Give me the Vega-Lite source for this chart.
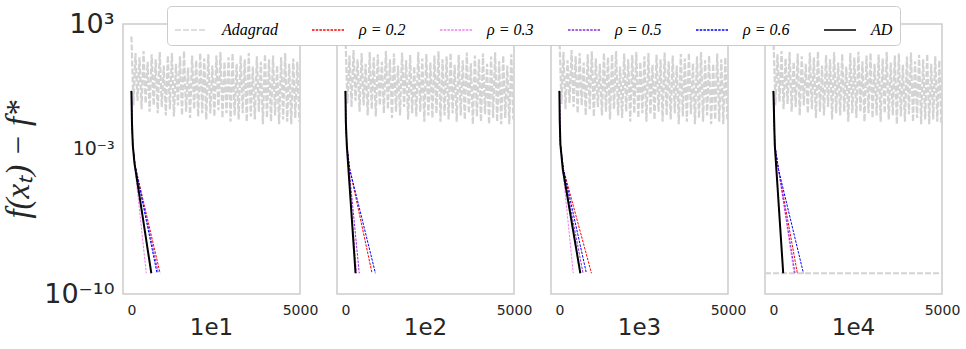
{
"$schema": "https://vega.github.io/schema/vega-lite/v6.json",
"padding": {"left": 2, "top": 5, "right": 5, "bottom": 2},
"background": "white",
"data": {"values": [
{"p":"1e4","s":"Adagrad","g":"f","x":-250,"y":1e-9},{"p":"1e4","s":"Adagrad","g":"f","x":5000,"y":1e-9},
{"p":"1e1","s":"Adagrad","g":"a","x":0,"y":250},{"p":"1e1","s":"Adagrad","g":"a","x":60,"y":0.12},{"p":"1e1","s":"Adagrad","g":"a","x":120,"y":40},{"p":"1e1","s":"Adagrad","g":"a","x":180,"y":0.2},{"p":"1e1","s":"Adagrad","g":"a","x":240,"y":25},{"p":"1e1","s":"Adagrad","g":"a","x":300,"y":0.08},{"p":"1e1","s":"Adagrad","g":"a","x":360,"y":50},{"p":"1e1","s":"Adagrad","g":"a","x":420,"y":0.15},{"p":"1e1","s":"Adagrad","g":"a","x":480,"y":15},{"p":"1e1","s":"Adagrad","g":"a","x":540,"y":0.06},{"p":"1e1","s":"Adagrad","g":"a","x":600,"y":35},{"p":"1e1","s":"Adagrad","g":"a","x":660,"y":0.12},{"p":"1e1","s":"Adagrad","g":"a","x":720,"y":20},{"p":"1e1","s":"Adagrad","g":"a","x":780,"y":0.05},{"p":"1e1","s":"Adagrad","g":"a","x":840,"y":45},{"p":"1e1","s":"Adagrad","g":"a","x":900,"y":0.1},{"p":"1e1","s":"Adagrad","g":"a","x":960,"y":10},{"p":"1e1","s":"Adagrad","g":"a","x":1020,"y":0.04},{"p":"1e1","s":"Adagrad","g":"a","x":1080,"y":30},{"p":"1e1","s":"Adagrad","g":"a","x":1140,"y":0.08},{"p":"1e1","s":"Adagrad","g":"a","x":1200,"y":40},{"p":"1e1","s":"Adagrad","g":"a","x":1260,"y":0.035},{"p":"1e1","s":"Adagrad","g":"a","x":1320,"y":12},{"p":"1e1","s":"Adagrad","g":"a","x":1380,"y":0.12},{"p":"1e1","s":"Adagrad","g":"a","x":1440,"y":28},{"p":"1e1","s":"Adagrad","g":"a","x":1500,"y":0.04},{"p":"1e1","s":"Adagrad","g":"a","x":1560,"y":50},{"p":"1e1","s":"Adagrad","g":"a","x":1620,"y":0.06},{"p":"1e1","s":"Adagrad","g":"a","x":1680,"y":8},{"p":"1e1","s":"Adagrad","g":"a","x":1740,"y":0.03},{"p":"1e1","s":"Adagrad","g":"a","x":1800,"y":30},{"p":"1e1","s":"Adagrad","g":"a","x":1860,"y":0.08},{"p":"1e1","s":"Adagrad","g":"a","x":1920,"y":18},{"p":"1e1","s":"Adagrad","g":"a","x":1980,"y":0.035},{"p":"1e1","s":"Adagrad","g":"a","x":2040,"y":40},{"p":"1e1","s":"Adagrad","g":"a","x":2100,"y":0.05},{"p":"1e1","s":"Adagrad","g":"a","x":2160,"y":22},{"p":"1e1","s":"Adagrad","g":"a","x":2220,"y":0.025},{"p":"1e1","s":"Adagrad","g":"a","x":2280,"y":35},{"p":"1e1","s":"Adagrad","g":"a","x":2340,"y":0.05},{"p":"1e1","s":"Adagrad","g":"a","x":2400,"y":10},{"p":"1e1","s":"Adagrad","g":"a","x":2460,"y":0.035},{"p":"1e1","s":"Adagrad","g":"a","x":2520,"y":30},{"p":"1e1","s":"Adagrad","g":"a","x":2580,"y":0.07},{"p":"1e1","s":"Adagrad","g":"a","x":2640,"y":45},{"p":"1e1","s":"Adagrad","g":"a","x":2700,"y":0.03},{"p":"1e1","s":"Adagrad","g":"a","x":2760,"y":15},{"p":"1e1","s":"Adagrad","g":"a","x":2820,"y":0.05},{"p":"1e1","s":"Adagrad","g":"a","x":2880,"y":25},{"p":"1e1","s":"Adagrad","g":"a","x":2940,"y":0.02},{"p":"1e1","s":"Adagrad","g":"a","x":3000,"y":38},{"p":"1e1","s":"Adagrad","g":"a","x":3060,"y":0.04},{"p":"1e1","s":"Adagrad","g":"a","x":3120,"y":12},{"p":"1e1","s":"Adagrad","g":"a","x":3180,"y":0.025},{"p":"1e1","s":"Adagrad","g":"a","x":3240,"y":30},{"p":"1e1","s":"Adagrad","g":"a","x":3300,"y":0.05},{"p":"1e1","s":"Adagrad","g":"a","x":3360,"y":20},{"p":"1e1","s":"Adagrad","g":"a","x":3420,"y":0.02},{"p":"1e1","s":"Adagrad","g":"a","x":3480,"y":40},{"p":"1e1","s":"Adagrad","g":"a","x":3540,"y":0.035},{"p":"1e1","s":"Adagrad","g":"a","x":3600,"y":9},{"p":"1e1","s":"Adagrad","g":"a","x":3660,"y":0.025},{"p":"1e1","s":"Adagrad","g":"a","x":3720,"y":28},{"p":"1e1","s":"Adagrad","g":"a","x":3780,"y":0.06},{"p":"1e1","s":"Adagrad","g":"a","x":3840,"y":15},{"p":"1e1","s":"Adagrad","g":"a","x":3900,"y":0.015},{"p":"1e1","s":"Adagrad","g":"a","x":3960,"y":35},{"p":"1e1","s":"Adagrad","g":"a","x":4020,"y":0.03},{"p":"1e1","s":"Adagrad","g":"a","x":4080,"y":20},{"p":"1e1","s":"Adagrad","g":"a","x":4140,"y":0.02},{"p":"1e1","s":"Adagrad","g":"a","x":4200,"y":30},{"p":"1e1","s":"Adagrad","g":"a","x":4260,"y":0.04},{"p":"1e1","s":"Adagrad","g":"a","x":4320,"y":10},{"p":"1e1","s":"Adagrad","g":"a","x":4380,"y":0.015},{"p":"1e1","s":"Adagrad","g":"a","x":4440,"y":25},{"p":"1e1","s":"Adagrad","g":"a","x":4500,"y":0.025},{"p":"1e1","s":"Adagrad","g":"a","x":4560,"y":40},{"p":"1e1","s":"Adagrad","g":"a","x":4620,"y":0.02},{"p":"1e1","s":"Adagrad","g":"a","x":4680,"y":12},{"p":"1e1","s":"Adagrad","g":"a","x":4740,"y":0.015},{"p":"1e1","s":"Adagrad","g":"a","x":4800,"y":22},{"p":"1e1","s":"Adagrad","g":"a","x":4860,"y":0.03},{"p":"1e1","s":"Adagrad","g":"a","x":4920,"y":15},{"p":"1e1","s":"Adagrad","g":"a","x":4980,"y":0.02},
{"p":"1e2","s":"Adagrad","g":"a","x":0,"y":300},{"p":"1e2","s":"Adagrad","g":"a","x":60,"y":0.15},{"p":"1e2","s":"Adagrad","g":"a","x":120,"y":30},{"p":"1e2","s":"Adagrad","g":"a","x":180,"y":0.1},{"p":"1e2","s":"Adagrad","g":"a","x":240,"y":55},{"p":"1e2","s":"Adagrad","g":"a","x":300,"y":0.2},{"p":"1e2","s":"Adagrad","g":"a","x":360,"y":20},{"p":"1e2","s":"Adagrad","g":"a","x":420,"y":0.06},{"p":"1e2","s":"Adagrad","g":"a","x":480,"y":40},{"p":"1e2","s":"Adagrad","g":"a","x":540,"y":0.12},{"p":"1e2","s":"Adagrad","g":"a","x":600,"y":12},{"p":"1e2","s":"Adagrad","g":"a","x":660,"y":0.04},{"p":"1e2","s":"Adagrad","g":"a","x":720,"y":45},{"p":"1e2","s":"Adagrad","g":"a","x":780,"y":0.08},{"p":"1e2","s":"Adagrad","g":"a","x":840,"y":25},{"p":"1e2","s":"Adagrad","g":"a","x":900,"y":0.035},{"p":"1e2","s":"Adagrad","g":"a","x":960,"y":35},{"p":"1e2","s":"Adagrad","g":"a","x":1020,"y":0.12},{"p":"1e2","s":"Adagrad","g":"a","x":1080,"y":15},{"p":"1e2","s":"Adagrad","g":"a","x":1140,"y":0.05},{"p":"1e2","s":"Adagrad","g":"a","x":1200,"y":50},{"p":"1e2","s":"Adagrad","g":"a","x":1260,"y":0.08},{"p":"1e2","s":"Adagrad","g":"a","x":1320,"y":20},{"p":"1e2","s":"Adagrad","g":"a","x":1380,"y":0.03},{"p":"1e2","s":"Adagrad","g":"a","x":1440,"y":38},{"p":"1e2","s":"Adagrad","g":"a","x":1500,"y":0.06},{"p":"1e2","s":"Adagrad","g":"a","x":1560,"y":10},{"p":"1e2","s":"Adagrad","g":"a","x":1620,"y":0.04},{"p":"1e2","s":"Adagrad","g":"a","x":1680,"y":42},{"p":"1e2","s":"Adagrad","g":"a","x":1740,"y":0.1},{"p":"1e2","s":"Adagrad","g":"a","x":1800,"y":18},{"p":"1e2","s":"Adagrad","g":"a","x":1860,"y":0.025},{"p":"1e2","s":"Adagrad","g":"a","x":1920,"y":32},{"p":"1e2","s":"Adagrad","g":"a","x":1980,"y":0.05},{"p":"1e2","s":"Adagrad","g":"a","x":2040,"y":9},{"p":"1e2","s":"Adagrad","g":"a","x":2100,"y":0.035},{"p":"1e2","s":"Adagrad","g":"a","x":2160,"y":45},{"p":"1e2","s":"Adagrad","g":"a","x":2220,"y":0.06},{"p":"1e2","s":"Adagrad","g":"a","x":2280,"y":22},{"p":"1e2","s":"Adagrad","g":"a","x":2340,"y":0.02},{"p":"1e2","s":"Adagrad","g":"a","x":2400,"y":36},{"p":"1e2","s":"Adagrad","g":"a","x":2460,"y":0.04},{"p":"1e2","s":"Adagrad","g":"a","x":2520,"y":14},{"p":"1e2","s":"Adagrad","g":"a","x":2580,"y":0.03},{"p":"1e2","s":"Adagrad","g":"a","x":2640,"y":30},{"p":"1e2","s":"Adagrad","g":"a","x":2700,"y":0.05},{"p":"1e2","s":"Adagrad","g":"a","x":2760,"y":48},{"p":"1e2","s":"Adagrad","g":"a","x":2820,"y":0.02},{"p":"1e2","s":"Adagrad","g":"a","x":2880,"y":20},{"p":"1e2","s":"Adagrad","g":"a","x":2940,"y":0.04},{"p":"1e2","s":"Adagrad","g":"a","x":3000,"y":28},{"p":"1e2","s":"Adagrad","g":"a","x":3060,"y":0.025},{"p":"1e2","s":"Adagrad","g":"a","x":3120,"y":40},{"p":"1e2","s":"Adagrad","g":"a","x":3180,"y":0.05},{"p":"1e2","s":"Adagrad","g":"a","x":3240,"y":11},{"p":"1e2","s":"Adagrad","g":"a","x":3300,"y":0.02},{"p":"1e2","s":"Adagrad","g":"a","x":3360,"y":33},{"p":"1e2","s":"Adagrad","g":"a","x":3420,"y":0.04},{"p":"1e2","s":"Adagrad","g":"a","x":3480,"y":18},{"p":"1e2","s":"Adagrad","g":"a","x":3540,"y":0.025},{"p":"1e2","s":"Adagrad","g":"a","x":3600,"y":42},{"p":"1e2","s":"Adagrad","g":"a","x":3660,"y":0.05},{"p":"1e2","s":"Adagrad","g":"a","x":3720,"y":13},{"p":"1e2","s":"Adagrad","g":"a","x":3780,"y":0.015},{"p":"1e2","s":"Adagrad","g":"a","x":3840,"y":30},{"p":"1e2","s":"Adagrad","g":"a","x":3900,"y":0.035},{"p":"1e2","s":"Adagrad","g":"a","x":3960,"y":20},{"p":"1e2","s":"Adagrad","g":"a","x":4020,"y":0.02},{"p":"1e2","s":"Adagrad","g":"a","x":4080,"y":38},{"p":"1e2","s":"Adagrad","g":"a","x":4140,"y":0.045},{"p":"1e2","s":"Adagrad","g":"a","x":4200,"y":12},{"p":"1e2","s":"Adagrad","g":"a","x":4260,"y":0.015},{"p":"1e2","s":"Adagrad","g":"a","x":4320,"y":27},{"p":"1e2","s":"Adagrad","g":"a","x":4380,"y":0.03},{"p":"1e2","s":"Adagrad","g":"a","x":4440,"y":44},{"p":"1e2","s":"Adagrad","g":"a","x":4500,"y":0.02},{"p":"1e2","s":"Adagrad","g":"a","x":4560,"y":16},{"p":"1e2","s":"Adagrad","g":"a","x":4620,"y":0.015},{"p":"1e2","s":"Adagrad","g":"a","x":4680,"y":30},{"p":"1e2","s":"Adagrad","g":"a","x":4740,"y":0.03},{"p":"1e2","s":"Adagrad","g":"a","x":4800,"y":10},{"p":"1e2","s":"Adagrad","g":"a","x":4860,"y":0.015},{"p":"1e2","s":"Adagrad","g":"a","x":4920,"y":35},{"p":"1e2","s":"Adagrad","g":"a","x":4980,"y":0.025},
{"p":"1e3","s":"Adagrad","g":"a","x":0,"y":280},{"p":"1e3","s":"Adagrad","g":"a","x":60,"y":0.14},{"p":"1e3","s":"Adagrad","g":"a","x":120,"y":45},{"p":"1e3","s":"Adagrad","g":"a","x":180,"y":0.08},{"p":"1e3","s":"Adagrad","g":"a","x":240,"y":18},{"p":"1e3","s":"Adagrad","g":"a","x":300,"y":0.16},{"p":"1e3","s":"Adagrad","g":"a","x":360,"y":55},{"p":"1e3","s":"Adagrad","g":"a","x":420,"y":0.1},{"p":"1e3","s":"Adagrad","g":"a","x":480,"y":28},{"p":"1e3","s":"Adagrad","g":"a","x":540,"y":0.05},{"p":"1e3","s":"Adagrad","g":"a","x":600,"y":40},{"p":"1e3","s":"Adagrad","g":"a","x":660,"y":0.12},{"p":"1e3","s":"Adagrad","g":"a","x":720,"y":14},{"p":"1e3","s":"Adagrad","g":"a","x":780,"y":0.04},{"p":"1e3","s":"Adagrad","g":"a","x":840,"y":35},{"p":"1e3","s":"Adagrad","g":"a","x":900,"y":0.08},{"p":"1e3","s":"Adagrad","g":"a","x":960,"y":48},{"p":"1e3","s":"Adagrad","g":"a","x":1020,"y":0.035},{"p":"1e3","s":"Adagrad","g":"a","x":1080,"y":22},{"p":"1e3","s":"Adagrad","g":"a","x":1140,"y":0.1},{"p":"1e3","s":"Adagrad","g":"a","x":1200,"y":12},{"p":"1e3","s":"Adagrad","g":"a","x":1260,"y":0.04},{"p":"1e3","s":"Adagrad","g":"a","x":1320,"y":40},{"p":"1e3","s":"Adagrad","g":"a","x":1380,"y":0.06},{"p":"1e3","s":"Adagrad","g":"a","x":1440,"y":25},{"p":"1e3","s":"Adagrad","g":"a","x":1500,"y":0.025},{"p":"1e3","s":"Adagrad","g":"a","x":1560,"y":35},{"p":"1e3","s":"Adagrad","g":"a","x":1620,"y":0.08},{"p":"1e3","s":"Adagrad","g":"a","x":1680,"y":50},{"p":"1e3","s":"Adagrad","g":"a","x":1740,"y":0.04},{"p":"1e3","s":"Adagrad","g":"a","x":1800,"y":9},{"p":"1e3","s":"Adagrad","g":"a","x":1860,"y":0.03},{"p":"1e3","s":"Adagrad","g":"a","x":1920,"y":38},{"p":"1e3","s":"Adagrad","g":"a","x":1980,"y":0.06},{"p":"1e3","s":"Adagrad","g":"a","x":2040,"y":20},{"p":"1e3","s":"Adagrad","g":"a","x":2100,"y":0.02},{"p":"1e3","s":"Adagrad","g":"a","x":2160,"y":32},{"p":"1e3","s":"Adagrad","g":"a","x":2220,"y":0.05},{"p":"1e3","s":"Adagrad","g":"a","x":2280,"y":45},{"p":"1e3","s":"Adagrad","g":"a","x":2340,"y":0.03},{"p":"1e3","s":"Adagrad","g":"a","x":2400,"y":15},{"p":"1e3","s":"Adagrad","g":"a","x":2460,"y":0.05},{"p":"1e3","s":"Adagrad","g":"a","x":2520,"y":28},{"p":"1e3","s":"Adagrad","g":"a","x":2580,"y":0.02},{"p":"1e3","s":"Adagrad","g":"a","x":2640,"y":40},{"p":"1e3","s":"Adagrad","g":"a","x":2700,"y":0.045},{"p":"1e3","s":"Adagrad","g":"a","x":2760,"y":11},{"p":"1e3","s":"Adagrad","g":"a","x":2820,"y":0.025},{"p":"1e3","s":"Adagrad","g":"a","x":2880,"y":33},{"p":"1e3","s":"Adagrad","g":"a","x":2940,"y":0.06},{"p":"1e3","s":"Adagrad","g":"a","x":3000,"y":20},{"p":"1e3","s":"Adagrad","g":"a","x":3060,"y":0.02},{"p":"1e3","s":"Adagrad","g":"a","x":3120,"y":42},{"p":"1e3","s":"Adagrad","g":"a","x":3180,"y":0.04},{"p":"1e3","s":"Adagrad","g":"a","x":3240,"y":16},{"p":"1e3","s":"Adagrad","g":"a","x":3300,"y":0.025},{"p":"1e3","s":"Adagrad","g":"a","x":3360,"y":30},{"p":"1e3","s":"Adagrad","g":"a","x":3420,"y":0.05},{"p":"1e3","s":"Adagrad","g":"a","x":3480,"y":10},{"p":"1e3","s":"Adagrad","g":"a","x":3540,"y":0.015},{"p":"1e3","s":"Adagrad","g":"a","x":3600,"y":36},{"p":"1e3","s":"Adagrad","g":"a","x":3660,"y":0.035},{"p":"1e3","s":"Adagrad","g":"a","x":3720,"y":22},{"p":"1e3","s":"Adagrad","g":"a","x":3780,"y":0.02},{"p":"1e3","s":"Adagrad","g":"a","x":3840,"y":40},{"p":"1e3","s":"Adagrad","g":"a","x":3900,"y":0.045},{"p":"1e3","s":"Adagrad","g":"a","x":3960,"y":13},{"p":"1e3","s":"Adagrad","g":"a","x":4020,"y":0.015},{"p":"1e3","s":"Adagrad","g":"a","x":4080,"y":28},{"p":"1e3","s":"Adagrad","g":"a","x":4140,"y":0.03},{"p":"1e3","s":"Adagrad","g":"a","x":4200,"y":45},{"p":"1e3","s":"Adagrad","g":"a","x":4260,"y":0.02},{"p":"1e3","s":"Adagrad","g":"a","x":4320,"y":18},{"p":"1e3","s":"Adagrad","g":"a","x":4380,"y":0.04},{"p":"1e3","s":"Adagrad","g":"a","x":4440,"y":30},{"p":"1e3","s":"Adagrad","g":"a","x":4500,"y":0.015},{"p":"1e3","s":"Adagrad","g":"a","x":4560,"y":12},{"p":"1e3","s":"Adagrad","g":"a","x":4620,"y":0.025},{"p":"1e3","s":"Adagrad","g":"a","x":4680,"y":38},{"p":"1e3","s":"Adagrad","g":"a","x":4740,"y":0.02},{"p":"1e3","s":"Adagrad","g":"a","x":4800,"y":20},{"p":"1e3","s":"Adagrad","g":"a","x":4860,"y":0.015},{"p":"1e3","s":"Adagrad","g":"a","x":4920,"y":25},{"p":"1e3","s":"Adagrad","g":"a","x":4980,"y":0.025},
{"p":"1e4","s":"Adagrad","g":"a","x":0,"y":260},{"p":"1e4","s":"Adagrad","g":"a","x":60,"y":0.12},{"p":"1e4","s":"Adagrad","g":"a","x":120,"y":35},{"p":"1e4","s":"Adagrad","g":"a","x":180,"y":0.18},{"p":"1e4","s":"Adagrad","g":"a","x":240,"y":50},{"p":"1e4","s":"Adagrad","g":"a","x":300,"y":0.08},{"p":"1e4","s":"Adagrad","g":"a","x":360,"y":22},{"p":"1e4","s":"Adagrad","g":"a","x":420,"y":0.14},{"p":"1e4","s":"Adagrad","g":"a","x":480,"y":45},{"p":"1e4","s":"Adagrad","g":"a","x":540,"y":0.06},{"p":"1e4","s":"Adagrad","g":"a","x":600,"y":15},{"p":"1e4","s":"Adagrad","g":"a","x":660,"y":0.1},{"p":"1e4","s":"Adagrad","g":"a","x":720,"y":38},{"p":"1e4","s":"Adagrad","g":"a","x":780,"y":0.04},{"p":"1e4","s":"Adagrad","g":"a","x":840,"y":28},{"p":"1e4","s":"Adagrad","g":"a","x":900,"y":0.12},{"p":"1e4","s":"Adagrad","g":"a","x":960,"y":12},{"p":"1e4","s":"Adagrad","g":"a","x":1020,"y":0.05},{"p":"1e4","s":"Adagrad","g":"a","x":1080,"y":42},{"p":"1e4","s":"Adagrad","g":"a","x":1140,"y":0.08},{"p":"1e4","s":"Adagrad","g":"a","x":1200,"y":25},{"p":"1e4","s":"Adagrad","g":"a","x":1260,"y":0.03},{"p":"1e4","s":"Adagrad","g":"a","x":1320,"y":48},{"p":"1e4","s":"Adagrad","g":"a","x":1380,"y":0.06},{"p":"1e4","s":"Adagrad","g":"a","x":1440,"y":10},{"p":"1e4","s":"Adagrad","g":"a","x":1500,"y":0.04},{"p":"1e4","s":"Adagrad","g":"a","x":1560,"y":32},{"p":"1e4","s":"Adagrad","g":"a","x":1620,"y":0.1},{"p":"1e4","s":"Adagrad","g":"a","x":1680,"y":20},{"p":"1e4","s":"Adagrad","g":"a","x":1740,"y":0.025},{"p":"1e4","s":"Adagrad","g":"a","x":1800,"y":44},{"p":"1e4","s":"Adagrad","g":"a","x":1860,"y":0.05},{"p":"1e4","s":"Adagrad","g":"a","x":1920,"y":14},{"p":"1e4","s":"Adagrad","g":"a","x":1980,"y":0.04},{"p":"1e4","s":"Adagrad","g":"a","x":2040,"y":36},{"p":"1e4","s":"Adagrad","g":"a","x":2100,"y":0.06},{"p":"1e4","s":"Adagrad","g":"a","x":2160,"y":9},{"p":"1e4","s":"Adagrad","g":"a","x":2220,"y":0.02},{"p":"1e4","s":"Adagrad","g":"a","x":2280,"y":40},{"p":"1e4","s":"Adagrad","g":"a","x":2340,"y":0.05},{"p":"1e4","s":"Adagrad","g":"a","x":2400,"y":24},{"p":"1e4","s":"Adagrad","g":"a","x":2460,"y":0.03},{"p":"1e4","s":"Adagrad","g":"a","x":2520,"y":46},{"p":"1e4","s":"Adagrad","g":"a","x":2580,"y":0.06},{"p":"1e4","s":"Adagrad","g":"a","x":2640,"y":16},{"p":"1e4","s":"Adagrad","g":"a","x":2700,"y":0.02},{"p":"1e4","s":"Adagrad","g":"a","x":2760,"y":30},{"p":"1e4","s":"Adagrad","g":"a","x":2820,"y":0.05},{"p":"1e4","s":"Adagrad","g":"a","x":2880,"y":40},{"p":"1e4","s":"Adagrad","g":"a","x":2940,"y":0.03},{"p":"1e4","s":"Adagrad","g":"a","x":3000,"y":12},{"p":"1e4","s":"Adagrad","g":"a","x":3060,"y":0.04},{"p":"1e4","s":"Adagrad","g":"a","x":3120,"y":34},{"p":"1e4","s":"Adagrad","g":"a","x":3180,"y":0.02},{"p":"1e4","s":"Adagrad","g":"a","x":3240,"y":22},{"p":"1e4","s":"Adagrad","g":"a","x":3300,"y":0.05},{"p":"1e4","s":"Adagrad","g":"a","x":3360,"y":45},{"p":"1e4","s":"Adagrad","g":"a","x":3420,"y":0.025},{"p":"1e4","s":"Adagrad","g":"a","x":3480,"y":14},{"p":"1e4","s":"Adagrad","g":"a","x":3540,"y":0.04},{"p":"1e4","s":"Adagrad","g":"a","x":3600,"y":30},{"p":"1e4","s":"Adagrad","g":"a","x":3660,"y":0.015},{"p":"1e4","s":"Adagrad","g":"a","x":3720,"y":38},{"p":"1e4","s":"Adagrad","g":"a","x":3780,"y":0.035},{"p":"1e4","s":"Adagrad","g":"a","x":3840,"y":11},{"p":"1e4","s":"Adagrad","g":"a","x":3900,"y":0.02},{"p":"1e4","s":"Adagrad","g":"a","x":3960,"y":27},{"p":"1e4","s":"Adagrad","g":"a","x":4020,"y":0.045},{"p":"1e4","s":"Adagrad","g":"a","x":4080,"y":42},{"p":"1e4","s":"Adagrad","g":"a","x":4140,"y":0.02},{"p":"1e4","s":"Adagrad","g":"a","x":4200,"y":16},{"p":"1e4","s":"Adagrad","g":"a","x":4260,"y":0.03},{"p":"1e4","s":"Adagrad","g":"a","x":4320,"y":33},{"p":"1e4","s":"Adagrad","g":"a","x":4380,"y":0.015},{"p":"1e4","s":"Adagrad","g":"a","x":4440,"y":20},{"p":"1e4","s":"Adagrad","g":"a","x":4500,"y":0.025},{"p":"1e4","s":"Adagrad","g":"a","x":4560,"y":36},{"p":"1e4","s":"Adagrad","g":"a","x":4620,"y":0.015},{"p":"1e4","s":"Adagrad","g":"a","x":4680,"y":12},{"p":"1e4","s":"Adagrad","g":"a","x":4740,"y":0.025},{"p":"1e4","s":"Adagrad","g":"a","x":4800,"y":28},{"p":"1e4","s":"Adagrad","g":"a","x":4860,"y":0.02},{"p":"1e4","s":"Adagrad","g":"a","x":4920,"y":18},{"p":"1e4","s":"Adagrad","g":"a","x":4980,"y":0.015},
{"p":"1e1","s":"ρ = 0.2","g":"b","x":0,"y":0.6},{"p":"1e1","s":"ρ = 0.2","g":"b","x":15,"y":0.02},{"p":"1e1","s":"ρ = 0.2","g":"b","x":40,"y":0.0015},{"p":"1e1","s":"ρ = 0.2","g":"b","x":110,"y":0.00015},{"p":"1e1","s":"ρ = 0.2","g":"b","x":850,"y":1e-9},
{"p":"1e1","s":"ρ = 0.3","g":"c","x":0,"y":0.6},{"p":"1e1","s":"ρ = 0.3","g":"c","x":15,"y":0.02},{"p":"1e1","s":"ρ = 0.3","g":"c","x":40,"y":0.0015},{"p":"1e1","s":"ρ = 0.3","g":"c","x":90,"y":0.0002},{"p":"1e1","s":"ρ = 0.3","g":"c","x":440,"y":1e-9},
{"p":"1e1","s":"ρ = 0.5","g":"d","x":0,"y":0.6},{"p":"1e1","s":"ρ = 0.5","g":"d","x":15,"y":0.02},{"p":"1e1","s":"ρ = 0.5","g":"d","x":40,"y":0.0015},{"p":"1e1","s":"ρ = 0.5","g":"d","x":110,"y":0.00015},{"p":"1e1","s":"ρ = 0.5","g":"d","x":800,"y":1e-9},
{"p":"1e1","s":"ρ = 0.6","g":"e","x":0,"y":0.6},{"p":"1e1","s":"ρ = 0.6","g":"e","x":15,"y":0.02},{"p":"1e1","s":"ρ = 0.6","g":"e","x":40,"y":0.0015},{"p":"1e1","s":"ρ = 0.6","g":"e","x":110,"y":0.00015},{"p":"1e1","s":"ρ = 0.6","g":"e","x":760,"y":1e-9},
{"p":"1e1","s":"AD","g":"h","x":0,"y":0.6},{"p":"1e1","s":"AD","g":"h","x":15,"y":0.02},{"p":"1e1","s":"AD","g":"h","x":40,"y":0.0015},{"p":"1e1","s":"AD","g":"h","x":90,"y":0.0002},{"p":"1e1","s":"AD","g":"h","x":590,"y":1e-9},
{"p":"1e2","s":"ρ = 0.2","g":"b","x":0,"y":0.6},{"p":"1e2","s":"ρ = 0.2","g":"b","x":12,"y":0.02},{"p":"1e2","s":"ρ = 0.2","g":"b","x":40,"y":0.0015},{"p":"1e2","s":"ρ = 0.2","g":"b","x":130,"y":0.0001},{"p":"1e2","s":"ρ = 0.2","g":"b","x":790,"y":1e-9},
{"p":"1e2","s":"ρ = 0.3","g":"c","x":0,"y":0.6},{"p":"1e2","s":"ρ = 0.3","g":"c","x":12,"y":0.02},{"p":"1e2","s":"ρ = 0.3","g":"c","x":40,"y":0.0015},{"p":"1e2","s":"ρ = 0.3","g":"c","x":100,"y":0.0001},{"p":"1e2","s":"ρ = 0.3","g":"c","x":330,"y":1e-9},
{"p":"1e2","s":"ρ = 0.5","g":"d","x":0,"y":0.6},{"p":"1e2","s":"ρ = 0.5","g":"d","x":12,"y":0.02},{"p":"1e2","s":"ρ = 0.5","g":"d","x":40,"y":0.0015},{"p":"1e2","s":"ρ = 0.5","g":"d","x":110,"y":0.0001},{"p":"1e2","s":"ρ = 0.5","g":"d","x":410,"y":1e-9},
{"p":"1e2","s":"ρ = 0.6","g":"e","x":0,"y":0.6},{"p":"1e2","s":"ρ = 0.6","g":"e","x":12,"y":0.02},{"p":"1e2","s":"ρ = 0.6","g":"e","x":40,"y":0.0015},{"p":"1e2","s":"ρ = 0.6","g":"e","x":130,"y":0.0001},{"p":"1e2","s":"ρ = 0.6","g":"e","x":890,"y":1e-9},
{"p":"1e2","s":"AD","g":"h","x":0,"y":0.6},{"p":"1e2","s":"AD","g":"h","x":12,"y":0.02},{"p":"1e2","s":"AD","g":"h","x":40,"y":0.0015},{"p":"1e2","s":"AD","g":"h","x":90,"y":0.0001},{"p":"1e2","s":"AD","g":"h","x":300,"y":1e-9},
{"p":"1e3","s":"ρ = 0.2","g":"b","x":0,"y":0.6},{"p":"1e3","s":"ρ = 0.2","g":"b","x":10,"y":0.02},{"p":"1e3","s":"ρ = 0.2","g":"b","x":30,"y":0.0015},{"p":"1e3","s":"ρ = 0.2","g":"b","x":120,"y":0.0001},{"p":"1e3","s":"ρ = 0.2","g":"b","x":950,"y":1e-9},
{"p":"1e3","s":"ρ = 0.3","g":"c","x":0,"y":0.6},{"p":"1e3","s":"ρ = 0.3","g":"c","x":10,"y":0.02},{"p":"1e3","s":"ρ = 0.3","g":"c","x":30,"y":0.0015},{"p":"1e3","s":"ρ = 0.3","g":"c","x":100,"y":0.0001},{"p":"1e3","s":"ρ = 0.3","g":"c","x":410,"y":1e-9},
{"p":"1e3","s":"ρ = 0.5","g":"d","x":0,"y":0.6},{"p":"1e3","s":"ρ = 0.5","g":"d","x":10,"y":0.02},{"p":"1e3","s":"ρ = 0.5","g":"d","x":30,"y":0.0015},{"p":"1e3","s":"ρ = 0.5","g":"d","x":110,"y":0.0001},{"p":"1e3","s":"ρ = 0.5","g":"d","x":700,"y":1e-9},
{"p":"1e3","s":"ρ = 0.6","g":"e","x":0,"y":0.6},{"p":"1e3","s":"ρ = 0.6","g":"e","x":10,"y":0.02},{"p":"1e3","s":"ρ = 0.6","g":"e","x":30,"y":0.0015},{"p":"1e3","s":"ρ = 0.6","g":"e","x":120,"y":0.0001},{"p":"1e3","s":"ρ = 0.6","g":"e","x":800,"y":1e-9},
{"p":"1e3","s":"AD","g":"h","x":0,"y":0.6},{"p":"1e3","s":"AD","g":"h","x":10,"y":0.02},{"p":"1e3","s":"AD","g":"h","x":30,"y":0.0015},{"p":"1e3","s":"AD","g":"h","x":100,"y":0.0001},{"p":"1e3","s":"AD","g":"h","x":620,"y":1e-9},
{"p":"1e4","s":"ρ = 0.2","g":"b","x":0,"y":0.6},{"p":"1e4","s":"ρ = 0.2","g":"b","x":40,"y":0.0015},{"p":"1e4","s":"ρ = 0.2","g":"b","x":150,"y":0.0001},{"p":"1e4","s":"ρ = 0.2","g":"b","x":710,"y":1e-9},
{"p":"1e4","s":"ρ = 0.3","g":"c","x":0,"y":0.6},{"p":"1e4","s":"ρ = 0.3","g":"c","x":40,"y":0.0015},{"p":"1e4","s":"ρ = 0.3","g":"c","x":150,"y":0.0001},{"p":"1e4","s":"ρ = 0.3","g":"c","x":610,"y":1e-9},
{"p":"1e4","s":"ρ = 0.5","g":"d","x":0,"y":0.6},{"p":"1e4","s":"ρ = 0.5","g":"d","x":40,"y":0.0015},{"p":"1e4","s":"ρ = 0.5","g":"d","x":150,"y":0.0001},{"p":"1e4","s":"ρ = 0.5","g":"d","x":640,"y":1e-9},
{"p":"1e4","s":"ρ = 0.6","g":"e","x":0,"y":0.6},{"p":"1e4","s":"ρ = 0.6","g":"e","x":40,"y":0.0015},{"p":"1e4","s":"ρ = 0.6","g":"e","x":150,"y":0.0001},{"p":"1e4","s":"ρ = 0.6","g":"e","x":890,"y":1e-9},
{"p":"1e4","s":"AD","g":"h","x":0,"y":0.6},{"p":"1e4","s":"AD","g":"h","x":40,"y":0.0015},{"p":"1e4","s":"AD","g":"h","x":290,"y":1e-9}
]},
"facet": {"column": {"field": "p", "type": "nominal", "sort": ["1e1","1e2","1e3","1e4"],
  "header": {"title": null, "labelOrient": "bottom", "labelFontSize": 23, "labelFont": "DejaVu Sans", "labelColor": "#262626", "labelPadding": 0}}},
"spacing": 35,
"spec": {
  "width": 177, "height": 270,
  "encoding": {
    "x": {"field": "x", "type": "quantitative",
      "scale": {"domain": [-250, 5000], "nice": false, "zero": false},
      "axis": {"values": [0, 5000], "format": "d", "title": null, "grid": false, "domain": false, "ticks": false, "labelFontSize": 14, "labelPadding": 8, "labelFlush": false, "labelFont": "DejaVu Sans", "labelColor": "#262626"}},
    "y": {"field": "y", "type": "quantitative",
      "scale": {"type": "log", "domain": [1e-10, 1000], "nice": false},
      "axis": {"values": [1e-10, 0.001, 1000], "labelExpr": "datum.value > 1 ? '10³' : datum.value > 1e-5 ? '10⁻³' : '10⁻¹⁰'",
        "title": "f(xₜ) − f*", "titleFont": "Liberation Serif", "titleFontStyle": "italic", "titleFontWeight": "normal", "titleFontSize": 33, "titleColor": "#262626", "titlePadding": 8,
        "grid": false, "domain": false, "ticks": false,
        "labelFontSize": {"condition": {"test": "datum.value > 1e-5 && datum.value < 1", "value": 19}, "value": 27},
        "labelPadding": 8, "labelFont": "DejaVu Sans", "labelColor": "#262626"}},
    "color": {"field": "s", "type": "nominal",
      "scale": {"domain": ["Adagrad","ρ = 0.2","ρ = 0.3","ρ = 0.5","ρ = 0.6","AD"], "range": ["#d3d3d3","#ff0000","#ee82ee","#8a2be2","#0000ff","#000000"]},
      "legend": {"title": null, "orient": "none", "legendX": 44, "legendY": -18, "direction": "horizontal", "columns": 6, "columnPadding": 30,
        "symbolType": "stroke", "symbolSize": 1024, "symbolStrokeWidth": 1.6, "labelOffset": 14, "labelFont": "Liberation Serif", "labelFontStyle": "italic", "labelFontSize": 16, "labelColor": "#000000",
        "strokeColor": "#cccccc", "fillColor": "white", "padding": 7, "cornerRadius": 4}},
    "strokeDash": {"field": "s", "type": "nominal",
      "scale": {"domain": ["Adagrad","ρ = 0.2","ρ = 0.3","ρ = 0.5","ρ = 0.6","AD"], "range": [[6,2],[2.5,1.2],[2.5,1.2],[2.5,1.2],[2.5,1.2],[1,0]]},
      "legend": {"title": null, "orient": "none", "legendX": 44, "legendY": -18, "direction": "horizontal", "columns": 6, "columnPadding": 30,
        "symbolType": "stroke", "symbolSize": 1024, "symbolStrokeWidth": 1.6, "labelOffset": 14, "labelFont": "Liberation Serif", "labelFontStyle": "italic", "labelFontSize": 16, "labelColor": "#000000",
        "strokeColor": "#cccccc", "fillColor": "white", "padding": 7, "cornerRadius": 4}},
    "detail": {"field": "g"}
  },
  "layer": [
    {"transform": [{"filter": "datum.s == 'Adagrad'"}], "mark": {"type": "line", "clip": true, "strokeWidth": 2.2}},
    {"transform": [{"filter": "datum.s != 'Adagrad' && datum.s != 'AD'"}], "mark": {"type": "line", "clip": true, "strokeWidth": 1}},
    {"transform": [{"filter": "datum.s == 'AD'"}], "mark": {"type": "line", "clip": true, "strokeWidth": 2}}
  ]
},
"config": {"view": {"stroke": "#cccccc", "strokeWidth": 1.5}}
}
